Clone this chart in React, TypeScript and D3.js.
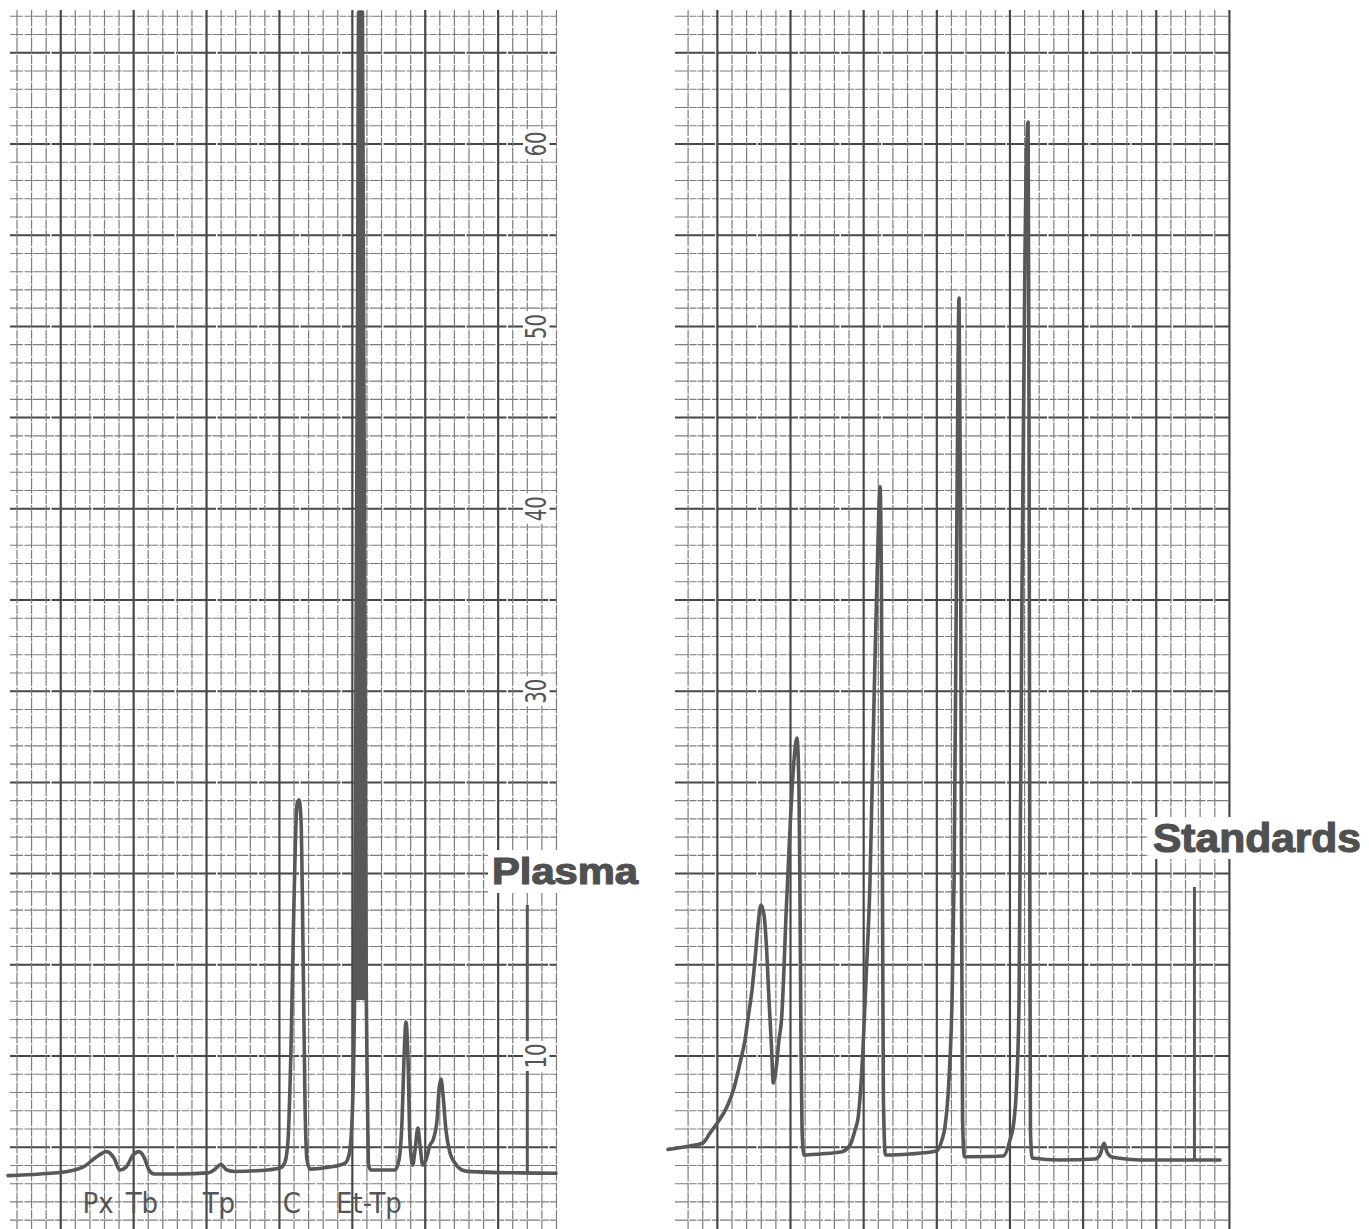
import React from "react";
import * as d3 from "d3";

// ---- Data (x in chart-paper minor divisions, y in chart-paper units) ----
const plasmaT = [-0.62, 1.58, 3.64, 4.66, 5.35, 6.17, 6.65, 7.06, 7.48, 7.96, 8.37, 8.71, 9.05, 9.4, 11.18, 13.1, 13.51, 13.99, 14.4, 14.95, 16.67, 18.04, 18.38, 18.59, 18.79, 19.0, 19.2, 19.34, 19.48, 19.62, 19.75, 19.89, 20.1, 21.47, 22.5, 22.77, 22.98, 23.15, 23.27, 23.36, 23.43, 23.69, 23.77, 23.85, 23.96, 24.04, 24.11, 24.28, 25.93, 26.2, 26.41, 26.54, 26.68, 26.82, 26.95, 27.14, 27.3, 27.5, 27.64, 27.83, 28.05, 28.33, 28.53, 28.81, 28.94, 29.08, 29.22, 29.42, 29.7, 30.04, 30.52, 31.07, 34.5, 36.97];
const plasmaV = [3.44, 3.53, 3.7, 3.97, 4.41, 4.76, 4.41, 3.75, 3.91, 4.57, 4.76, 4.46, 3.75, 3.53, 3.53, 3.59, 3.75, 4.05, 3.75, 3.67, 3.72, 3.86, 4.19, 5.39, 10.33, 18.55, 23.76, 24.04, 22.94, 15.81, 7.59, 4.3, 3.8, 3.91, 4.13, 4.57, 6.49, 13.07, 35.0, 51.45, 67.24, 67.24, 51.45, 35.0, 13.07, 7.59, 4.02, 3.75, 3.75, 4.3, 6.49, 9.78, 11.86, 9.78, 5.39, 4.02, 4.85, 6.05, 5.12, 4.02, 4.3, 5.12, 5.39, 6.49, 8.14, 8.74, 7.86, 5.94, 4.68, 4.13, 3.75, 3.66, 3.59, 3.57];
// range of the off-scale (solid band) Et-Tp peak, in t units
const plasmaOffScale = [23.14, 23.97];

const standardsT = [-1.37, 0.13, 1.02, 1.5, 2.04, 2.66, 3.14, 3.55, 3.89, 4.11, 4.37, 4.57, 4.78, 4.98, 5.19, 5.37, 5.53, 5.71, 5.82, 6.0, 6.21, 6.4, 6.55, 6.69, 6.96, 7.24, 7.44, 7.58, 7.65, 7.72, 7.79, 7.92, 9.02, 10.5, 11.07, 11.41, 11.63, 11.95, 12.16, 12.43, 12.71, 12.98, 13.12, 13.22, 13.29, 13.35, 13.49, 15.17, 16.99, 17.35, 17.56, 17.83, 18.04, 18.18, 18.38, 18.52, 18.62, 18.69, 18.76, 18.89, 20.64, 21.54, 22.0, 22.28, 22.46, 22.62, 22.82, 23.03, 23.24, 23.3, 23.36, 23.4, 23.51, 25.42, 27.81, 28.15, 28.43, 28.63, 28.97, 29.52, 30.89, 36.36];
const standardsV = [4.88, 5.07, 5.23, 5.78, 6.38, 7.22, 8.25, 9.62, 10.88, 12.15, 13.62, 15.26, 17.18, 18.28, 17.73, 15.81, 13.07, 10.33, 8.52, 9.23, 10.88, 12.15, 14.71, 17.68, 22.39, 26.23, 27.43, 24.58, 18.55, 10.33, 5.94, 4.57, 4.63, 4.75, 5.12, 5.94, 6.67, 10.33, 14.17, 19.48, 29.52, 38.29, 41.2, 35.0, 18.55, 7.59, 4.57, 4.63, 4.79, 5.39, 6.12, 8.68, 13.07, 19.65, 40.48, 51.56, 40.48, 18.55, 6.49, 4.48, 4.49, 4.52, 5.39, 6.49, 8.52, 13.07, 35.0, 54.19, 61.21, 45.96, 18.55, 5.94, 4.41, 4.3, 4.35, 4.57, 5.21, 4.74, 4.46, 4.39, 4.3, 4.3];

// injection / end markers: [t, vBottom, vTop]
const plasmaMarker = [35.0, 3.59, 18.28];
const standardsMarker = [34.61, 4.3, 19.27];

const peakLabels = ["Px", "Tb", "Tp", "C", "Et-Tp"];
const peakLabelT = [5.56, 8.57, 13.85, 18.86, 24.14];

const yTickValues = [10, 20, 30, 40, 50, 60];

const W = 1369;
const H = 1229;
const TRACE = "#585858";
const GRID_MINOR = "#7c7c7c";
const GRID_MAJOR = "#474747";

const y = d3.scaleLinear().domain([0, 60]).range([1238.4, 144]);

type PanelProps = {
  x0: number;
  step: number;
  hLeft: number;
  hRight: number;
  majorOffset: number;
  t: number[];
  v: number[];
  marker: number[];
  band?: number[];
};

function Panel({ x0, step, hLeft, hRight, majorOffset, t, v, marker, band }: PanelProps) {
  const x = d3.scaleLinear().domain([0, 37]).range([x0, x0 + 37 * step]);
  const vLines = d3.range(0, 38);
  const hLines = d3.range(0, 68);
  const pts: [number, number][] = t.map((d, i) => [d, v[i]]);
  const line = d3
    .line<[number, number]>()
    .x((d) => x(d[0]))
    .y((d) => y(d[1]))
    .curve(d3.curveMonotoneX);
  const bandPts = band ? pts.filter((p) => p[0] >= band[0] && p[0] <= band[1]) : [];
  return (
    <g>
      {hLines.map((k) => (
        <line
          key={"h" + k}
          x1={hLeft}
          x2={hRight}
          y1={y(k)}
          y2={y(k)}
          stroke={k % 5 === 0 ? GRID_MAJOR : GRID_MINOR}
          strokeWidth={k % 5 === 0 ? 2 : 1.1}
          strokeDasharray={k % 5 === 0 ? "40 1.5" : "13 1.5 7 1"}
        />
      ))}
      {vLines.map((k) => {
        const major = (k - majorOffset) % 5 === 0;
        return (
          <line
            key={"v" + k}
            x1={x(k)}
            x2={x(k)}
            y1={10}
            y2={H}
            stroke={major ? GRID_MAJOR : GRID_MINOR}
            strokeWidth={major ? 2.2 : 1.2}
            strokeDasharray={major ? undefined : "16 1.5 9 1"}
          />
        );
      })}
      <line
        x1={x(marker[0])}
        x2={x(marker[0])}
        y1={y(marker[1])}
        y2={y(marker[2])}
        stroke={TRACE}
        strokeWidth={3}
      />
      {bandPts.length > 2 && (
        <path d={(line(bandPts) || "") + "Z"} fill={TRACE} stroke="none" />
      )}
      <path d={line(pts) || ""} fill="none" stroke={TRACE} strokeWidth={3.6} strokeLinejoin="round" strokeLinecap="round" />
    </g>
  );
}

export default function App() {
  const xl = d3.scaleLinear().domain([0, 37]).range([17, 17 + 37 * 14.58]);
  const narrow = "'Liberation Sans Narrow', 'DejaVu Sans Condensed', 'Roboto Condensed', sans-serif";
  const heavy = "'Liberation Sans', Arial, sans-serif";
  return (
    <svg width={W} height={H} style={{ position: "absolute", left: 0, top: 0, background: "#fff" }}>
      <rect x={0} y={0} width={W} height={H} fill="#fff" />
      <Panel x0={17} step={14.58} hLeft={10} hRight={557} majorOffset={3} t={plasmaT} v={plasmaV} marker={plasmaMarker} band={plasmaOffScale} />
      <Panel x0={688.1} step={14.63} hLeft={675} hRight={1230} majorOffset={2} t={standardsT} v={standardsV} marker={standardsMarker} />

      {/* y tick labels on left panel */}
      {yTickValues.map((val) => (
        <g key={"yt" + val} transform={`translate(536,${y(val)})`}>
          <rect x={-13} y={-15} width={26} height={30} fill="#fff" />
          <text
            transform="rotate(-90)"
            textAnchor="middle"
            dominantBaseline="central"
            fontFamily={narrow}
            fontSize={28}
            fill="#555"
            textLength={25}
            lengthAdjust="spacingAndGlyphs"
          >
            {val}
          </text>
        </g>
      ))}

      {/* peak labels */}
      {peakLabels.map((lab, i) => (
        <text
          key={lab}
          x={xl(peakLabelT[i])}
          y={1213}
          textAnchor="middle"
          fontFamily={narrow}
          fontSize={29}
          fill="#555"
        >
          {lab}
        </text>
      ))}

      {/* panel titles */}
      <rect x={488} y={850} width={156} height={43} fill="#fff" />
      <text x={492} y={884} fontFamily={heavy} fontWeight="bold" fontSize={36} fill="#505050" stroke="#505050" strokeWidth={1.2} textLength={146} lengthAdjust="spacingAndGlyphs">
        Plasma
      </text>
      <rect x={1148} y={817} width={221} height={42} fill="#fff" />
      <text x={1153} y={852} fontFamily={heavy} fontWeight="bold" fontSize={40} fill="#505050" stroke="#505050" strokeWidth={1.2} textLength={208} lengthAdjust="spacingAndGlyphs">
        Standards
      </text>
    </svg>
  );
}
